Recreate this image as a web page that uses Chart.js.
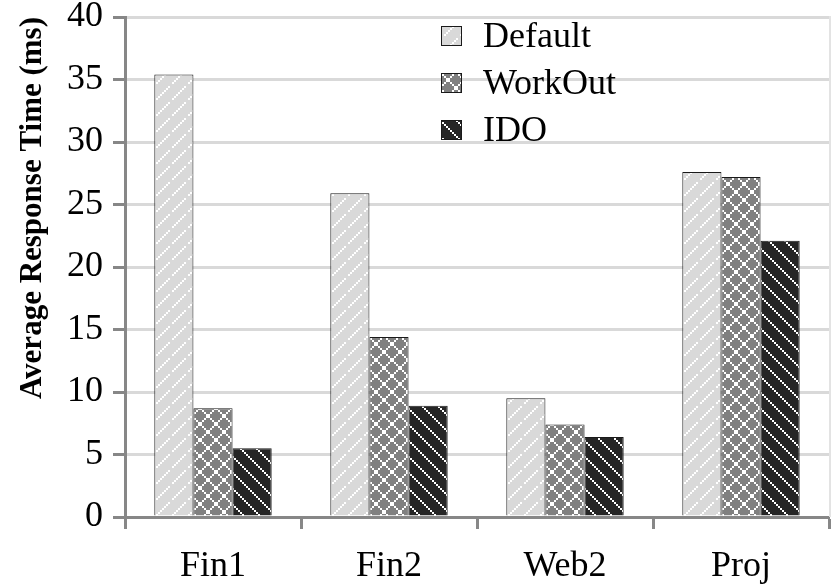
<!DOCTYPE html>
<html>
<head>
<meta charset="utf-8">
<script src="https://cdn.jsdelivr.net/npm/chart.js@4"></script>
<style>
  body { margin: 0; background: #fff; }
  #wrap { width: 836px; height: 587px; }
</style>
</head>
<body>
<div id="wrap"><canvas id="barChart" width="836" height="587"></canvas></div>
<script>
const categories = ['Fin1', 'Fin2', 'Web2', 'Proj'];
const defaultVals = [35.4, 25.9, 9.5, 27.6];
const workoutVals = [8.7, 14.4, 7.4, 27.2];
const idoVals = [5.5, 8.9, 6.4, 22.1];
const yTicks = [0, 5, 10, 15, 20, 25, 30, 35, 40];

const FONT = "'Liberation Serif', 'Times New Roman', serif";

// hatch tiles built from 2px blocks
function makeTile(size, bg, drawFn) {
  const c = document.createElement('canvas');
  c.width = size; c.height = size;
  const g = c.getContext('2d');
  g.fillStyle = bg;
  g.fillRect(0, 0, size, size);
  g.fillStyle = '#ffffff';
  drawFn(g, size);
  return c;
}

const ctx = document.getElementById('barChart').getContext('2d');

const slashTile = makeTile(16, '#d9d9d9', (g, n) => {
  for (let k = 0; k < 8; k++) {
    if (k !== 5) g.fillRect(k * 2, n - 2 - k * 2, 2, 2);
  }
});
const crossTile = makeTile(16, '#808080', (g, n) => {
  for (let k = 0; k < 8; k++) {
    g.fillRect(k * 2, k * 2, 2, 2);
    g.fillRect(k * 2, n - 2 - k * 2, 2, 2);
  }
});
const backTile = makeTile(16, '#262626', (g, n) => {
  for (let k = 0; k < 8; k++) {
    g.fillRect(k * 2, k * 2, 2, 2);
  }
});

const fills = [
  ctx.createPattern(slashTile, 'repeat'),
  ctx.createPattern(crossTile, 'repeat'),
  ctx.createPattern(backTile, 'repeat')
];

// legend drawn inside the plot, top middle
const innerLegend = {
  id: 'innerLegend',
  afterDraw(chart) {
    const c = chart.ctx;
    const x0 = 441, y0 = 36, gap = 47;
    c.save();
    chart.data.datasets.forEach((ds, i) => {
      const cy = y0 + i * gap;
      c.fillStyle = ds.backgroundColor;
      c.fillRect(x0, cy - 10, 21, 20);
      c.strokeStyle = '#1a1a1a';
      c.lineWidth = 1;
      c.strokeRect(x0 + 0.5, cy - 9.5, 20, 19);
      c.fillStyle = '#000';
      c.font = `36px ${FONT}`;
      c.textBaseline = 'middle';
      c.textAlign = 'left';
      c.fillText(ds.label, 483, cy + 2);
    });
    c.restore();
  }
};

// thin right border of the plot
const rightEdge = {
  id: 'rightEdge',
  beforeDatasetsDraw(chart) {
    const a = chart.chartArea;
    const c = chart.ctx;
    c.save();
    c.strokeStyle = '#e3e3e3';
    c.lineWidth = 2;
    c.beginPath();
    c.moveTo(a.right + 1, a.top - 1);
    c.lineTo(a.right + 1, a.bottom);
    c.stroke();
    c.restore();
  }
};

new Chart(ctx, {
  type: 'bar',
  data: {
    labels: categories,
    datasets: [
      { label: 'Default', data: defaultVals, backgroundColor: fills[0] },
      { label: 'WorkOut', data: workoutVals, backgroundColor: fills[1] },
      { label: 'IDO', data: idoVals, backgroundColor: fills[2] }
    ].map(d => ({ ...d, borderColor: '#1a1a1a', borderWidth: 1, categoryPercentage: 0.667, barPercentage: 1 }))
  },
  options: {
    responsive: false,
    animation: false,
    layout: { padding: { top: 17, right: 7, left: 0, bottom: 0 } },
    plugins: {
      legend: { display: false },
      tooltip: { enabled: false }
    },
    scales: {
      x: {
        grid: {
          drawOnChartArea: false,
          tickColor: '#878787',
          tickLength: 12,
          tickWidth: 3
        },
        border: { color: '#878787', width: 3 },
        ticks: {
          color: '#000',
          font: { family: FONT, size: 36 },
          padding: 16
        },
        afterFit: s => { s.height = 70; }
      },
      y: {
        min: 0,
        max: 40,
        afterBuildTicks: s => { s.ticks = yTicks.map(v => ({ value: v })); },
        grid: {
          color: '#d9d9d9',
          lineWidth: 3,
          tickColor: '#878787',
          tickLength: 12,
          tickWidth: 3
        },
        border: { color: '#878787', width: 3 },
        ticks: {
          color: '#000',
          font: { family: FONT, size: 36 },
          padding: 10
        },
        title: {
          display: true,
          text: 'Average Response Time (ms)',
          color: '#000',
          align: 'end',
          font: { family: FONT, size: 31, weight: 'bold' },
          padding: { top: 14, bottom: 0 }
        },
        afterFit: s => { s.width = 125; s.paddingTop = 0; s.paddingBottom = 0; }
      }
    }
  },
  plugins: [innerLegend, rightEdge]
});
</script>
</body>
</html>
